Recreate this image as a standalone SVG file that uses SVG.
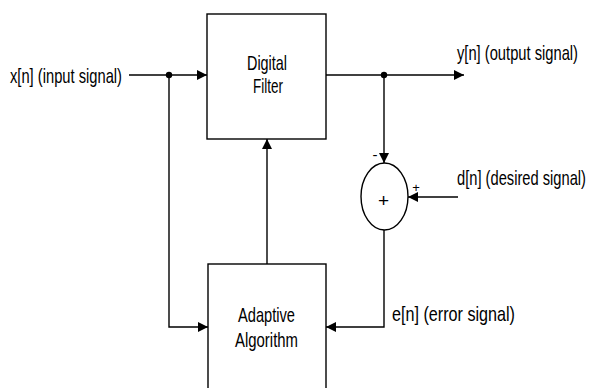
<svg xmlns="http://www.w3.org/2000/svg" width="589" height="388" viewBox="0 0 589 388">
<defs>
<style>
text{font-family:"Liberation Sans",Arial,sans-serif;font-size:21px;fill:#000}
.c{text-anchor:middle}
.box{fill:#fff;stroke:#000;stroke-width:1.4}
.ln{fill:none;stroke:#000;stroke-width:1.4}
</style>
<marker id="ah" markerWidth="10" markerHeight="10" refX="10" refY="5" orient="auto" markerUnits="userSpaceOnUse" viewBox="0 0 10 10">
<path d="M0,0 L10,5 L0,10 Z" fill="#000"/>
</marker>
</defs>
<rect width="589" height="388" fill="#fff"/>
<g id="connectors">
<path class="ln" d="M129,75 H207" marker-end="url(#ah)"/>
<path class="ln" d="M169,75 V327 H208" marker-end="url(#ah)"/>
<path class="ln" d="M267,264 V139" marker-end="url(#ah)"/>
<path class="ln" d="M326,75 H464" marker-end="url(#ah)"/>
<path class="ln" d="M384,75 V163" marker-end="url(#ah)"/>
<path class="ln" d="M458,197 H408" marker-end="url(#ah)"/>
<path class="ln" d="M384,230 V327 H326" marker-end="url(#ah)"/>
<circle cx="169" cy="75" r="3.2" fill="#000"/>
<circle cx="384" cy="75" r="3.2" fill="#000"/>
</g>
<g id="digital-filter">
<rect class="box" x="207" y="14" width="119" height="125"/>
<text class="c" x="267" y="70" textLength="40" lengthAdjust="spacingAndGlyphs">Digital</text>
<text class="c" x="268" y="93" textLength="30" lengthAdjust="spacingAndGlyphs">Filter</text>
</g>
<g id="adaptive-algorithm">
<rect class="box" x="208" y="264" width="118" height="140"/>
<text class="c" x="266.5" y="322" textLength="57" lengthAdjust="spacingAndGlyphs">Adaptive</text>
<text class="c" x="266.5" y="347" textLength="63" lengthAdjust="spacingAndGlyphs">Algorithm</text>
</g>
<g id="summer">
<ellipse class="box" cx="384.5" cy="196.5" rx="23.5" ry="33.5"/>
<text class="c" x="383.5" y="207" style="font-size:19px">+</text>
<text class="c" x="375" y="160" style="font-size:15px">-</text>
<text class="c" x="416" y="192" style="font-size:13px">+</text>
</g>
<g id="labels">
<text x="10" y="83" textLength="112" lengthAdjust="spacingAndGlyphs">x[n] (input signal)</text>
<text x="457" y="60" textLength="121" lengthAdjust="spacingAndGlyphs">y[n] (output signal)</text>
<text x="457" y="185" textLength="129" lengthAdjust="spacingAndGlyphs">d[n] (desired signal)</text>
<text x="392" y="321" textLength="123" lengthAdjust="spacingAndGlyphs">e[n] (error signal)</text>
</g>
</svg>
